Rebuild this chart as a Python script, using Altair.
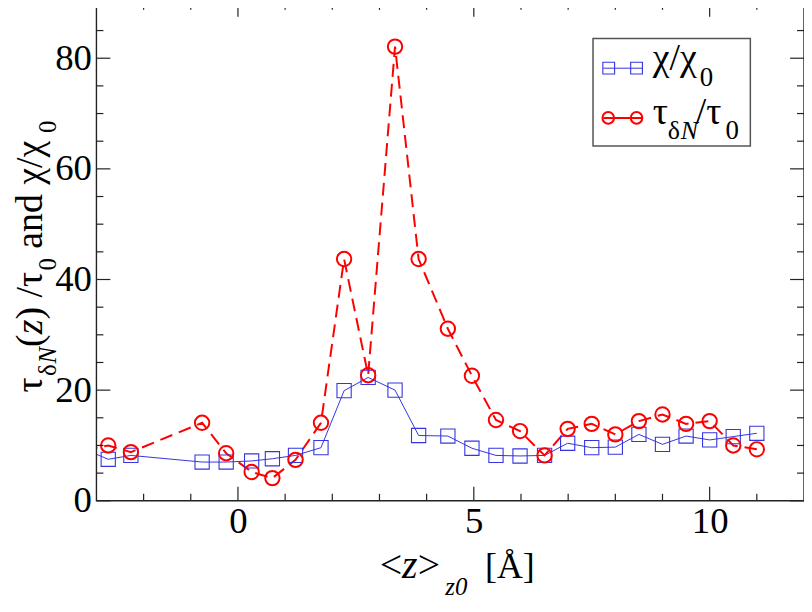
import altair as alt
import pandas as pd

# ---------------- data ----------------
z_pos = [-3.25, -2.75, -2.27, -0.76, -0.25, 0.29, 0.73, 1.22, 1.76, 2.25, 2.76, 3.33, 3.83,
         4.45, 4.96, 5.47, 5.98, 6.5, 6.99, 7.5, 8.0, 8.5, 9.0, 9.5, 10.0, 10.5, 11.0]
chi_ratio = [9.3, 7.5, 8.2, 7.0, 7.0, 7.2, 7.6, 8.2, 9.6, 19.9, 22.3, 20.0, 11.8,
             11.7, 9.5, 8.2, 8.1, 8.2, 10.4, 9.6, 9.7, 12.0, 10.2, 11.7, 11.0, 11.6, 12.2]
tau_ratio = [9.2, 10.0, 8.8, 14.1, 8.6, 5.2, 4.1, 7.4, 14.1, 43.7, 22.7, 82.1, 43.7,
             31.1, 22.6, 14.6, 12.6, 8.2, 13.0, 13.9, 12.0, 14.4, 15.6, 13.9, 14.4, 10.0, 9.3]

x_major = [0, 5, 10]
x_minor = [-2, -1, 1, 2, 3, 4, 6, 7, 8, 9, 11]
y_major = [0, 20, 40, 60, 80]
y_minor = [5, 10, 15, 25, 30, 35, 45, 50, 55, 65, 70, 75, 85]

# ---------------- styling ----------------
W, H = 712, 501
FONT = "Liberation Serif"
BLUE = "#3434e0"
RED = "#ff0000"
FRAME = "#222222"

xs = alt.Scale(domain=[-3, 12], nice=False, zero=False)
ys = alt.Scale(domain=[0, 90], nice=False, zero=False)

xaxis = alt.Axis(title=None, values=x_major, ticks=False, tickSize=0, domain=False, grid=False,
                 labelFont=FONT, labelFontSize=37, labelColor="black", labelPadding=3,
                 labelFlush=False, labelOverlap=False, format="d")
yaxis = alt.Axis(title=None, values=y_major, ticks=False, tickSize=0, domain=False, grid=False,
                 labelFont=FONT, labelFontSize=37, labelColor="black", labelPadding=5,
                 labelFlush=False, labelOverlap=False, format="d")

df = pd.DataFrame({"z": z_pos, "chi": chi_ratio, "tau": tau_ratio})

X = alt.X("z:Q", scale=xs, axis=xaxis)

blue_line = alt.Chart(df).mark_line(color=BLUE, strokeWidth=1, clip=True).encode(
    x=X, y=alt.Y("chi:Q", scale=ys, axis=yaxis))
blue_pts = alt.Chart(df).mark_point(shape="square", filled=False, size=205, color=BLUE,
                                    strokeWidth=1.1, opacity=1, clip=True).encode(
    x=X, y=alt.Y("chi:Q", scale=ys, axis=yaxis))
red_line = alt.Chart(df).mark_line(color=RED, strokeWidth=2, strokeDash=[13, 7], clip=True).encode(
    x=X, y=alt.Y("tau:Q", scale=ys, axis=yaxis))
red_pts = alt.Chart(df).mark_point(shape="circle", filled=False, size=210, color=RED,
                                   strokeWidth=2, opacity=1, clip=True).encode(
    x=X, y=alt.Y("tau:Q", scale=ys, axis=yaxis))

one = pd.DataFrame({"a": [0]})
frame = alt.Chart(one).mark_rect(fillOpacity=0, stroke=FRAME, strokeWidth=1.4).encode(
    x=alt.value(0), x2=alt.value(W), y=alt.value(0), y2=alt.value(H))


def xticks(vals, length):
    d = pd.DataFrame({"v": vals})
    xe = alt.X("v:Q", scale=xs, axis=xaxis)
    bot = alt.Chart(d).mark_rule(color=FRAME, strokeWidth=1.2).encode(
        x=xe, y=alt.value(H), y2=alt.value(H - length))
    top = alt.Chart(d).mark_rule(color=FRAME, strokeWidth=1.2).encode(
        x=xe, y=alt.value(0), y2=alt.value(length))
    return [bot, top]


def yticks(vals, length):
    d = pd.DataFrame({"v": vals})
    ye = alt.Y("v:Q", scale=ys, axis=yaxis)
    left = alt.Chart(d).mark_rule(color=FRAME, strokeWidth=1.2).encode(
        y=ye, x=alt.value(0), x2=alt.value(length))
    right = alt.Chart(d).mark_rule(color=FRAME, strokeWidth=1.2).encode(
        y=ye, x=alt.value(W), x2=alt.value(W - length))
    return [left, right]


def txt(s, x, y, size, angle=0, italic=False, align="left", baseline="alphabetic"):
    kw = dict(align=align, baseline=baseline, fontSize=size, font=FONT, color="black")
    if angle:
        kw["angle"] = angle
    if italic:
        kw["fontStyle"] = "italic"
    return alt.Chart(pd.DataFrame({"t": [s]})).mark_text(**kw).encode(
        text="t:N", x=alt.value(x), y=alt.value(y))


# y-axis title (rotated, pieces with subscripts); page coords -> plot coords (-97, -1)
YB, YS = -55, -41
YF, YSF = 38, 25
ytitle = [
    txt("τ", YB, 392, YF, 270),
    txt("δ", YS, 375.4, YSF, 270),
    txt("N", YS, 362.9, YSF, 270, italic=True),
    txt("(", YB, 346.2, YF, 270),
    txt("z", YB, 333.5, YF, 270, italic=True),
    txt(")", YB, 318.7, YF, 270),
    txt("/τ", YB, 296.5, YF, 270),
    txt("0", YS, 269.3, YSF, 270),
    txt("and χ/χ", YB, 247.3, YF, 270),
    txt("0", YS, 131, YSF, 270),
]

# x-axis title
XB, XS = 579, 596
xtitle = [
    txt("<", 285, XB, 40),
    txt("z", 307.6, XB, 40, italic=True),
    txt(">", 323.2, XB, 40),
    txt("z0", 351, XS, 25, italic=True),
    txt("[Å]", 391, XB, 36),
]

# legend
LX1, LX2, LY1, LY2 = 499.7, 658.0, 35.7, 144.0
leg_box = alt.Chart(one).mark_rect(fill="white", stroke="#555555", strokeWidth=1.5).encode(
    x=alt.value(LX1), x2=alt.value(LX2), y=alt.value(LY1), y2=alt.value(LY2))
R1, R2 = 65.7, 115.7
leg_l1 = alt.Chart(one).mark_rule(color=BLUE, strokeWidth=1).encode(
    x=alt.value(510), x2=alt.value(549.5), y=alt.value(R1))
leg_l2 = alt.Chart(one).mark_rule(color=RED, strokeWidth=2).encode(
    x=alt.value(510), x2=alt.value(549.5), y=alt.value(R2))
leg_sq = [alt.Chart(one).mark_point(shape="square", filled=False, size=140, color=BLUE,
                                    strokeWidth=1.1, opacity=1).encode(
    x=alt.value(px), y=alt.value(R1)) for px in (515.5, 543.5)]
leg_ci = [alt.Chart(one).mark_point(shape="circle", filled=False, size=135, color=RED,
                                    strokeWidth=2, opacity=1).encode(
    x=alt.value(px), y=alt.value(R2)) for px in (515.0, 543.5)]
leg_txt = [
    txt("χ/χ", 559.7, 67.8, 38),
    txt("0", 607, 84, 27),
    txt("τ", 559.7, 122, 38),
    txt("δ", 575, 137, 26),
    txt("N", 588, 137, 26, italic=True),
    txt("/τ", 603, 122, 38),
    txt("0", 633, 137, 27),
]

layers = ([blue_line, red_line, blue_pts, red_pts, frame]
          + xticks(x_major, 14) + xticks(x_minor, 7)
          + yticks(y_major, 14) + yticks(y_minor, 7)
          + ytitle + xtitle
          + [leg_box, leg_l1, leg_l2] + leg_sq + leg_ci + leg_txt)

chart = alt.layer(*layers).properties(
    width=W, height=H,
    autosize=alt.AutoSizeParams(type="none"),
    padding={"left": 89, "top": -7, "right": 0, "bottom": 102},
    background="white",
).configure_view(stroke=None)

chart.save("out.html", embed_options={"renderer": "svg", "actions": False})
